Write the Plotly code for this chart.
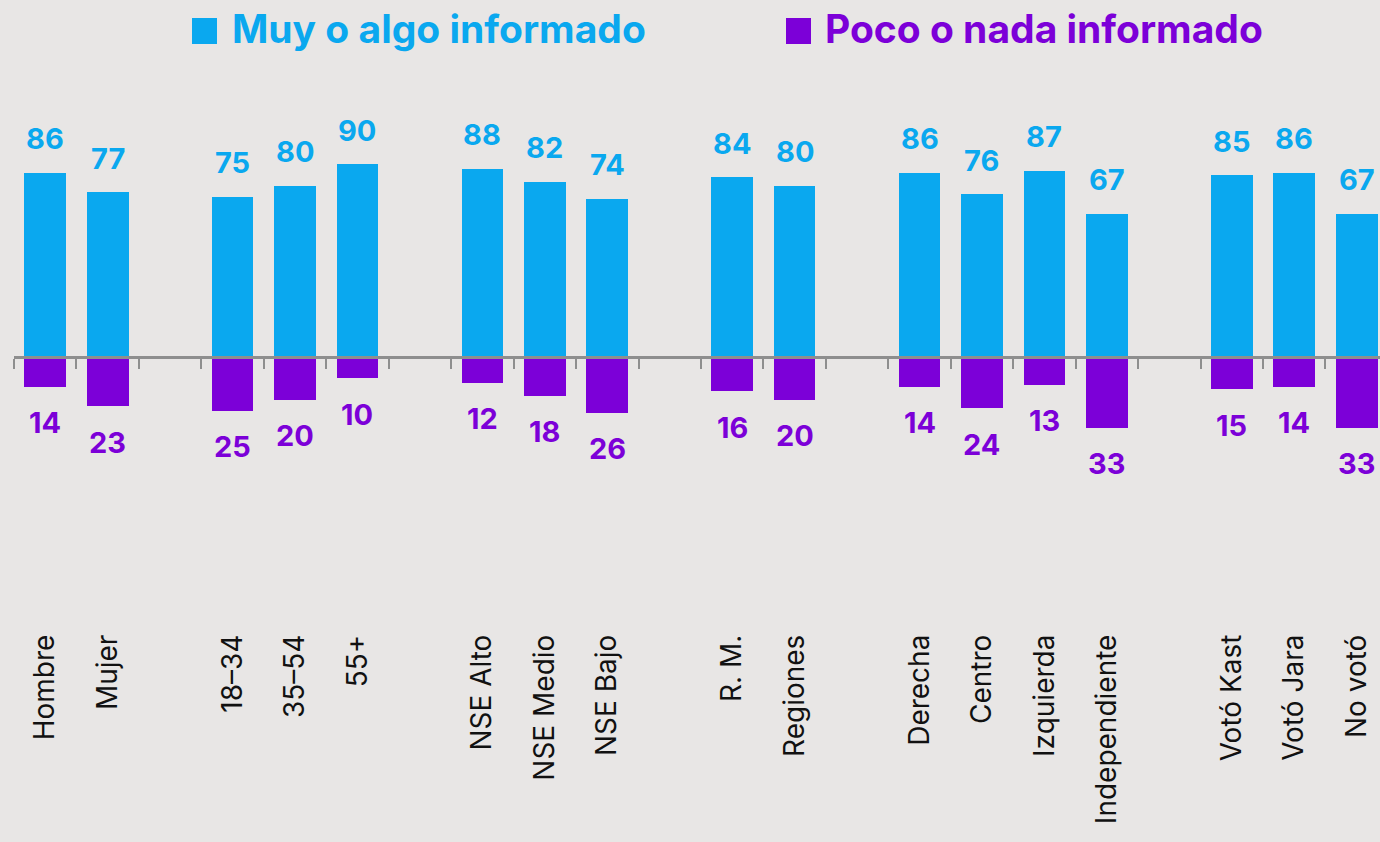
import plotly.graph_objects as go

# ---- data ----
groups = [
    ["Hombre", "Mujer"],
    ["18–34", "35–54", "55+"],
    ["NSE Alto", "NSE Medio", "NSE Bajo"],
    ["R. M.", "Regiones"],
    ["Derecha", "Centro", "Izquierda", "Independiente"],
    ["Votó Kast", "Votó Jara", "No votó"],
]
categories = [c for g in groups for c in g]
informado = [86, 77, 75, 80, 90, 88, 82, 74, 84, 80, 86, 76, 87, 67, 85, 86, 67]
no_informado = [14, 23, 25, 20, 10, 12, 18, 26, 16, 20, 14, 24, 13, 33, 15, 14, 33]
series_names = ["Muy o algo informado", "Poco o nada informado"]

# ---- style ----
BLUE = "#0AA8EF"
PURPLE = "#7C00D8"
BG = "#E8E6E5"
GRAY = "#8E8E8E"
FONT = "Inter"

W, H = 1380, 842
L, R, T, B = 14, 0, 70, 214
PW, PH = W - L - R, H - T - B

# slot positions with a blank slot between groups
positions = []
s = 0
for g in groups:
    for _ in g:
        positions.append(s)
        s += 1
    s += 1
n_slots = s
boundaries = [k - 0.5 for k in range(n_slots)]

px_per_unit = 2.14
x_range = [-0.5, -0.5 + PW / 62.45]
zero_px_from_top = 357 - T
y_max = zero_px_from_top / px_per_unit
y_min = -(PH - zero_px_from_top) / px_per_unit
y_range = [y_min, y_max]

neg = [-v for v in no_informado]

fig = go.Figure()
fig.add_trace(go.Bar(x=positions, y=informado, name=series_names[0],
                     marker=dict(color=BLUE, line=dict(width=0)), width=0.667,
                     showlegend=False))
fig.add_trace(go.Bar(x=positions, y=neg, name=series_names[1],
                     marker=dict(color=PURPLE, line=dict(width=0)), width=0.667,
                     showlegend=False))
# dummy trace for the zero axis with tick marks
fig.add_trace(go.Scatter(x=[None], y=[None], xaxis="x2", showlegend=False,
                         hoverinfo="skip"))

annotations = []
for xp, v in zip(positions, informado):
    annotations.append(dict(x=xp, y=v, xref="x", yref="y", text=str(v),
                            showarrow=False, yanchor="middle", yshift=34,
                            font=dict(family=FONT, size=29, color=BLUE, weight="bold")))
for xp, v in zip(positions, no_informado):
    annotations.append(dict(x=xp, y=-v, xref="x", yref="y", text=str(v),
                            showarrow=False, yanchor="middle", yshift=-36,
                            font=dict(family=FONT, size=29, color=PURPLE, weight="bold")))


def pxx(px):
    return (px - L) / PW


def pxy(py):
    return (H - B - py) / PH


# custom legend
legend_items = [(series_names[0], BLUE, 192, 230), (series_names[1], PURPLE, 786, 823)]
shapes = []
for name, col, sq_x, tx in legend_items:
    shapes.append(dict(type="rect", xref="paper", yref="paper",
                       x0=pxx(sq_x), x1=pxx(sq_x + 25), y0=pxy(44), y1=pxy(18),
                       fillcolor=col, line=dict(width=0)))
    annotations.append(dict(x=pxx(tx), y=pxy(28), xref="paper", yref="paper",
                            text=name, showarrow=False, xanchor="left", yanchor="middle",
                            font=dict(family=FONT, size=39, color=col, weight="bold")))

zero_pos = (0 - y_min) / (y_max - y_min)

fig.update_layout(
    width=W, height=H,
    margin=dict(l=L, r=R, t=T, b=B),
    paper_bgcolor=BG, plot_bgcolor=BG,
    barmode="relative",
    bargap=0,
    annotations=annotations,
    shapes=shapes,
    xaxis=dict(range=x_range, tickmode="array", tickvals=positions, ticktext=categories,
               tickangle=-90, showgrid=False, zeroline=False, showline=False,
               ticks="",
               tickfont=dict(family=FONT, size=28, color="#111111")),
    xaxis2=dict(range=x_range, overlaying="x", anchor="free", position=zero_pos,
                side="bottom", tickmode="array", tickvals=boundaries, showticklabels=False,
                ticks="outside", ticklen=10, tickwidth=2, tickcolor=GRAY,
                showline=True, linecolor=GRAY, linewidth=2.5, showgrid=False,
                zeroline=False, layer="above traces"),
    yaxis=dict(range=y_range, visible=False, showgrid=False, zeroline=False),
)

fig.write_html("out.html",
               config={"displayModeBar": False},
               post_script="document.body.style.margin='0';document.body.style.background='" + BG + "';")
